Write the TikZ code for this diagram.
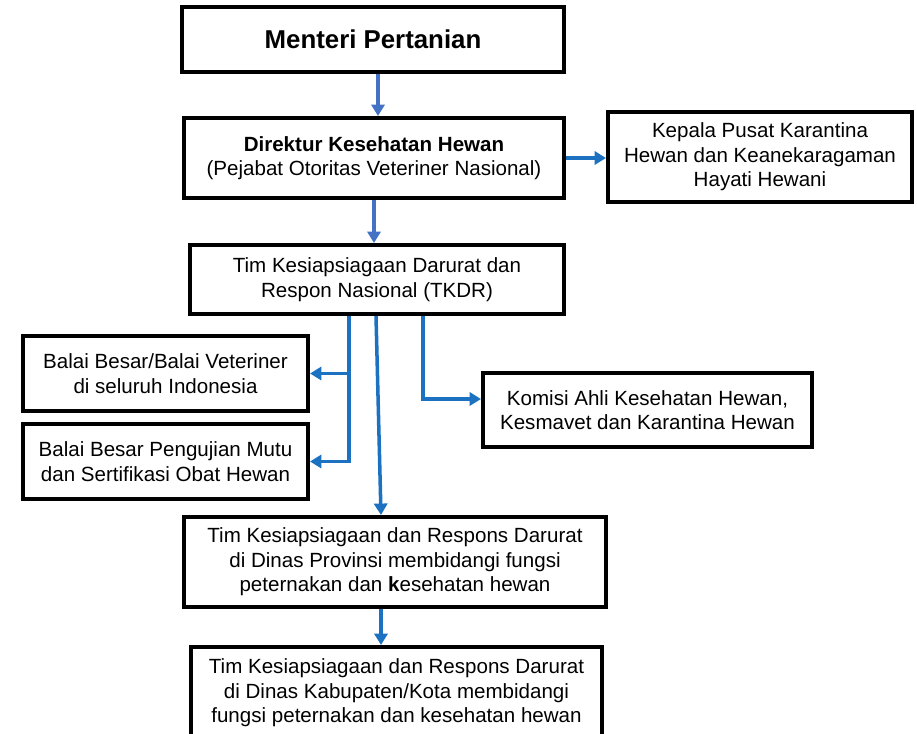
\documentclass[tikz,border=0pt]{standalone}
\usepackage{fontspec}
\setmainfont{Liberation Sans}
\usetikzlibrary{arrows.meta,calc}
\definecolor{darkarrow}{RGB}{68,114,196}
\definecolor{brightarrow}{RGB}{28,114,192}
\begin{document}
\begin{tikzpicture}[x=0.02cm, y=-0.02cm,
    box/.style = {draw, line width=2.3pt, align=center, inner sep=0pt,
      font=\fontsize{11.7}{14}\selectfont},
    link/.style = {line width=2pt, draw=brightarrow,
      -{Triangle[width=7.5pt,length=6.5pt]}},
    linkdark/.style = {link, draw=darkarrow}]
        \useasboundingbox (0,0) rectangle (917,734);
        \node[box, minimum width=7.64cm, minimum height=1.30cm,
          font=\bfseries\fontsize{14.7}{17}\selectfont] (menteri) at (373,39.5) {Menteri Pertanian};
        \node[box, minimum width=7.60cm, minimum height=1.60cm] (direktur) at (374,158)
          {\textbf{Direktur Kesehatan Hewan}\\(Pejabat Otoritas Veteriner Nasional)};
        \node[box, minimum width=6.08cm, minimum height=1.80cm] (kepala) at (760,157)
          {Kepala Pusat Karantina\\Hewan dan Keanekaragaman\\Hayati Hewani};
        \node[box, minimum width=7.48cm, minimum height=1.38cm] (tkdr) at (377,279.5)
          {Tim Kesiapsiagaan Darurat dan\\Respon Nasional (TKDR)};
        \node[box, minimum width=5.70cm, minimum height=1.50cm] (balai1) at (165.5,373.5)
          {Balai Besar/Balai Veteriner\\di seluruh Indonesia};
        \node[box, minimum width=5.70cm, minimum height=1.50cm] (balai2) at (165.5,461.5)
          {Balai Besar Pengujian Mutu\\dan Sertifikasi Obat Hewan};
        \node[box, minimum width=6.58cm, minimum height=1.48cm] (komisi) at (647.5,410)
          {Komisi Ahli Kesehatan Hewan,\\Kesmavet dan Karantina Hewan};
        \node[box, minimum width=8.44cm, minimum height=1.80cm] (prov) at (395,562)
          {Tim Kesiapsiagaan dan Respons Darurat\\di Dinas Provinsi membidangi fungsi\\peternakan dan \textbf{k}esehatan hewan};
        \node[box, minimum width=8.22cm, minimum height=1.84cm] (kab) at (396.5,693)
          {Tim Kesiapsiagaan dan Respons Darurat\\di Dinas Kabupaten/Kota membidangi\\fungsi peternakan dan kesehatan hewan};
        %
        \coordinate (split) at ($(tkdr.south)+(-28,0)$);
        \draw[linkdark] ($(menteri.south)+(5,0)$) -- ($(direktur.north)+(4,0)$);
        \draw[linkdark] (direktur.south) -- (tkdr.north -| direktur.south);
        \draw[link] (direktur.east) -- (direktur.east -| kepala.west);
        \draw[link] (split) |- (balai1.east);
        \draw[link] (split) |- (balai2.east);
        \draw[link] ($(tkdr.south)+(-1,0)$) -- ($(prov.north)+(-14,0)$);
        \draw[link] ($(tkdr.south)+(46,0)$) |- ($(komisi.west)+(0,-11)$);
        \draw[link] ($(prov.south)+(-14,0)$) -- ($(kab.north)+(-15.5,0)$);
      \end{tikzpicture}
\end{document}
